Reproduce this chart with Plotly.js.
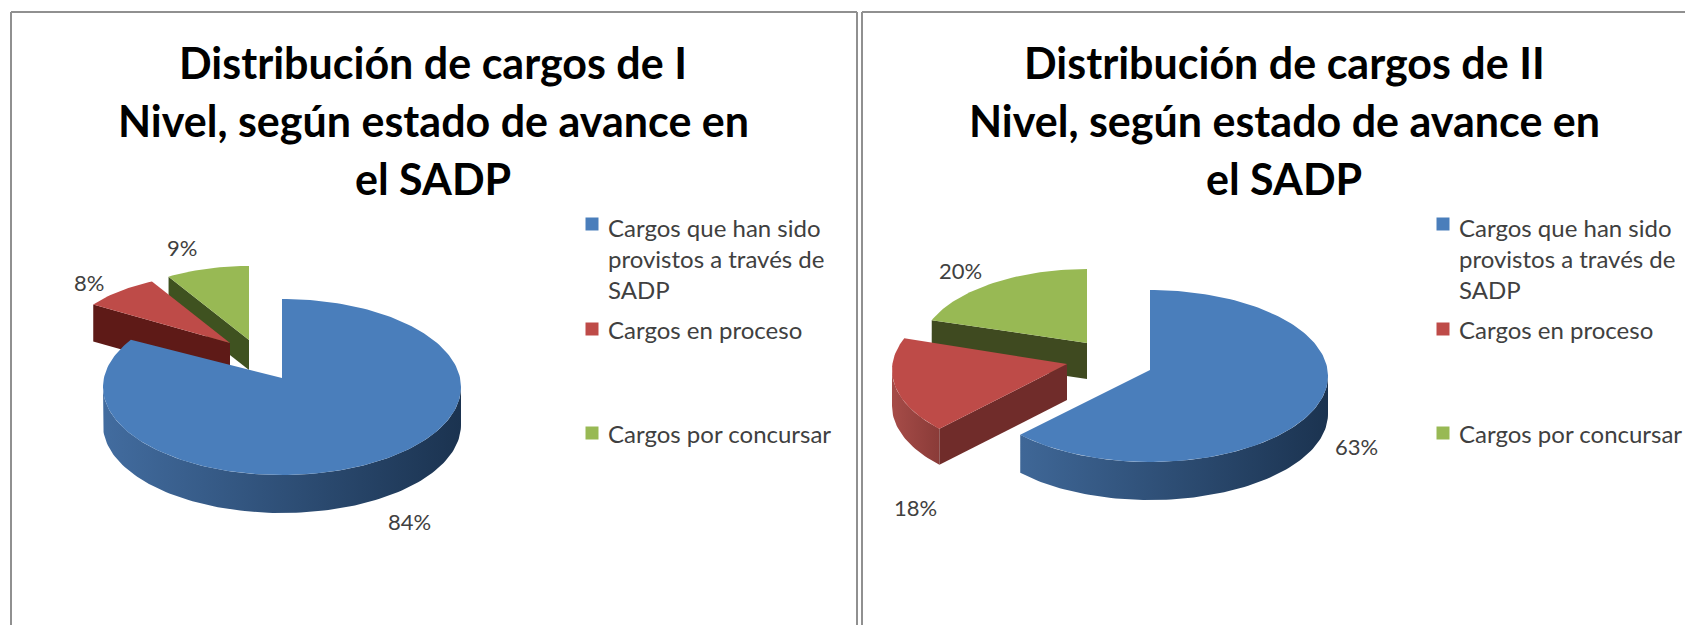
<!DOCTYPE html>
<html><head><meta charset="utf-8">
<script src="https://cdn.plot.ly/plotly-3.0.1.min.js"></script>
<style>html,body{margin:0;padding:0;background:#fff}#c{width:1685px;height:625px}</style></head>
<body><div id="c"></div>
<script>
// ---- data ----
const categories = ["Cargos que han sido<br>provistos a través de<br>SADP", "Cargos en proceso", "Cargos por concursar"];
const valuesI  = [84, 8, 9];
const valuesII = [63, 18, 20];
const titleI  = ["Distribución de cargos de I", "Nivel, según estado de avance en", "el SADP"];
const titleII = ["Distribución de cargos de II", "Nivel, según estado de avance en", "el SADP"];

// ---- styling / layout (pixel space) ----
const colors = ["#4a7ebb", "#be4b48", "#98b954"];
const wallI  = [["#426c9f","#1b3350"], ["#5e1a17","#5e1a17"], ["#3f5220","#3f5220"]];
const wallII = [["#3f6797","#1b3350"], ["#a64c48","#8a3b38"], ["#3f4a20","#3f4a20"]];
const faceI  = ["#2c4a70", "#5e1a17", "#3f5220"];
const faceII = ["#2c4a70", "#702c2a", "#3f4a20"];
// for each slice: ellipse centre, radii, apex and depth
const geoI = [
  {cx:282, cy:387, rx:179, ry:88, ax:282, ay:378, d:38},
  {cx:230, cy:341, rx:162, ry:68, ax:230, ay:343, d:37},
  {cx:249, cy:352, rx:167, ry:86, ax:249, ay:340, d:30}];
const geoII = [
  {cx:1150, cy:376, rx:178, ry:86, ax:1150, ay:370, d:38},
  {cx:1067, cy:370, rx:175, ry:86, ax:1067, ay:364, d:36},
  {cx:1087, cy:350, rx:167, ry:81, ax:1087, ay:343, d:36}];
const labelPosI  = [[409,521],[89,282],[182,247]];
const labelPosII = [[1356,446],[915,507],[960,270]];
const titleXI = 433, titleXII = 1284, titleY = [62,120,178];
const legendSwatchXI = 592, legendSwatchXII = 1443, legendTextGap = 14;
const legendSwatchY = [224,329,433], legendTextY = [258,329,433];

const traces = [], annotations = [];
const rad = Math.PI/180;
function pt(g,t){ return [g.cx + g.rx*Math.sin(t*rad), g.cy - g.ry*Math.cos(t*rad)]; }
function arc(g,a,b,off){ const p=[]; const n=Math.max(2,Math.ceil(Math.abs(b-a)/1.5));
  for(let i=0;i<=n;i++){ const q=pt(g,a+(b-a)*i/n); p.push([q[0],q[1]+off]); } return p; }
function poly(pts,opt){ traces.push(Object.assign({type:'scatter',mode:'lines',x:pts.map(p=>p[0]),y:pts.map(p=>p[1]),
  fill:'toself',line:{width:0},hoverinfo:'skip',showlegend:false},opt)); }

function drawPie(values,geo,wall,face,labelPos,swatchX){
  let c=0; const rng=values.map(v=>{const a=c; c=Math.min(100,c+v); return [a*3.6,c*3.6];});
  // back slices first, largest slice on top
  [2,1,0].forEach(i=>{
    const g=geo[i],[a,b]=rng[i];
    // outer wall (visible front half of the rim)
    const s=Math.max(a,90), e=Math.min(b,270);
    if(e>s){ const top=arc(g,s,e,0), bot=arc(g,s,e,g.d).reverse();
      poly(top.concat(bot),{fillcolor:wall[i][0],fillgradient:{type:'horizontal',colorscale:[[0,wall[i][0]],[1,wall[i][1]]]}}); }
    // cut face at the leading edge
    if(a>180){ const q=pt(g,a);
      poly([[g.ax,g.ay],q,[q[0],q[1]+g.d],[g.ax,g.ay+g.d]],{fillcolor:face[i]}); }
    // top face
    poly([[g.ax,g.ay]].concat(arc(g,a,b,0)),{fillcolor:colors[i]});
  });
  values.forEach((v,i)=>annotations.push({x:labelPos[i][0],y:labelPos[i][1],xref:'x',yref:'y',text:v+'%',showarrow:false,
    font:{family:'Lato, sans-serif',size:22,color:'#404040'}}));
  categories.forEach((n,i)=>{
    traces.push({type:'scatter',mode:'markers',x:[swatchX],y:[legendSwatchY[i]],name:n.replace(/<br>/g,' '),showlegend:false,
      hoverinfo:'skip',marker:{symbol:'square',size:13,color:colors[i]}});
    annotations.push({x:swatchX+legendTextGap,y:legendTextY[i],xref:'x',yref:'y',xanchor:'left',align:'left',text:n,showarrow:false,
      font:{family:'Lato, sans-serif',size:24,color:'#404040'}});
  });
}
drawPie(valuesI,geoI,wallI,faceI,labelPosI,legendSwatchXI);
drawPie(valuesII,geoII,wallII,faceII,labelPosII,legendSwatchXII);

function drawTitle(lines,x){ lines.forEach((t,i)=>annotations.push({x:x,y:titleY[i],xref:'x',yref:'y',text:'<b>'+t+'</b>',showarrow:false,
  font:{family:'Lato, sans-serif',size:43,color:'#000'}})); }
drawTitle(titleI,titleXI); drawTitle(titleII,titleXII);

const frame={color:'#909090',width:2};
const shapes=[
 {type:'line',xref:'x',yref:'y',x0:11,x1:857,y0:12,y1:12,line:frame},
 {type:'line',xref:'x',yref:'y',x0:11,x1:11,y0:12,y1:625,line:frame},
 {type:'line',xref:'x',yref:'y',x0:857,x1:857,y0:12,y1:625,line:frame},
 {type:'line',xref:'x',yref:'y',x0:862,x1:1685,y0:12,y1:12,line:frame},
 {type:'line',xref:'x',yref:'y',x0:862,x1:862,y0:12,y1:625,line:frame}];

Plotly.newPlot('c',traces,{
  width:1685,height:625,margin:{l:0,r:0,t:0,b:0},paper_bgcolor:'#fff',plot_bgcolor:'#fff',showlegend:false,
  xaxis:{range:[0,1685],visible:false,fixedrange:true},
  yaxis:{range:[625,0],visible:false,fixedrange:true},
  annotations:annotations,shapes:shapes
},{staticPlot:true,displayModeBar:false});
</script></body></html>
